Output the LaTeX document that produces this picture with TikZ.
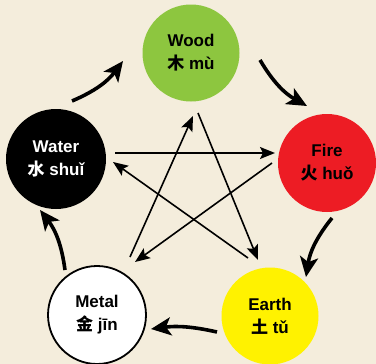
\documentclass[tikz,border=0pt]{standalone}
\usepackage{fontspec}
\setmainfont{Liberation Sans}
\newfontfamily\cjk{Noto Sans CJK SC}
\usetikzlibrary{arrows.meta}
\definecolor{paper}{HTML}{F4EDDC}
\definecolor{woodc}{HTML}{8DC63F}
\definecolor{firec}{HTML}{ED1C24}
\definecolor{earthc}{HTML}{FFF200}
\tikzset{
  elem/.style={circle, inner sep=0pt, align=center,
    font=\fontsize{17}{23}\selectfont\bfseries},
  outer/.style={line width=3.6pt, -{Stealth[length=20pt,width=18pt,inset=5pt]}},
  star/.style={line width=1.6pt, -{Stealth[length=15pt,width=12pt,inset=3pt]}},
}
\begin{document}
\begin{tikzpicture}[x=1pt,y=-1pt]
\fill[paper] (0,0) rectangle (376,364);
\useasboundingbox (0,0) rectangle (376,364);
% elements
\node[elem, fill=woodc, minimum size=97pt] (wood) at (191,53) {Wood\\{\cjk 木} mù};
\node[elem, fill=firec, minimum size=98pt] (fire) at (327,163) {Fire\\{\cjk 火} huǒ};
\node[elem, fill=earthc, minimum size=97pt] (earth) at (270,316) {Earth\\{\cjk 土} tǔ};
\node[elem, fill=white, draw=black, line width=1.8pt, minimum size=98pt] (metal) at (97,315) {Metal\\{\cjk 金} jīn};
\node[elem, fill=black, text=white, minimum size=100pt] (water) at (56,159) {Water\\{\cjk 水} shuǐ};
% connector end points
\coordinate (o1a) at (72,101);  \coordinate (o1b) at (123,61);
\coordinate (o2a) at (260,60);  \coordinate (o2b) at (307,106);
\coordinate (o3a) at (332,218); \coordinate (o3b) at (306,277);
\coordinate (o4a) at (217,332); \coordinate (o4b) at (151,329);
\coordinate (o5a) at (65,270);  \coordinate (o5b) at (40,210);
\coordinate (s1a) at (115,153); \coordinate (s1b) at (275,153);
\coordinate (s2a) at (272,163); \coordinate (s2b) at (135,262);
\coordinate (s3a) at (130,257); \coordinate (s3b) at (193,116);
\coordinate (s4a) at (198,113); \coordinate (s4b) at (258,260);
\coordinate (s5a) at (248,258); \coordinate (s5b) at (113,162);
% generating cycle
\draw[outer] (o1a) to[bend right=15] (o1b);
\draw[outer] (o2a) to[bend right=15] (o2b);
\draw[outer] (o3a) to[bend right=15] (o3b);
\draw[outer] (o4a) to[bend right=10] (o4b);
\draw[outer] (o5a) to[bend right=15] (o5b);
% controlling cycle
\draw[star] (s1a) -- (s1b);
\draw[star] (s2a) -- (s2b);
\draw[star] (s3a) -- (s3b);
\draw[star] (s4a) -- (s4b);
\draw[star] (s5a) -- (s5b);
\end{tikzpicture}
\end{document}
